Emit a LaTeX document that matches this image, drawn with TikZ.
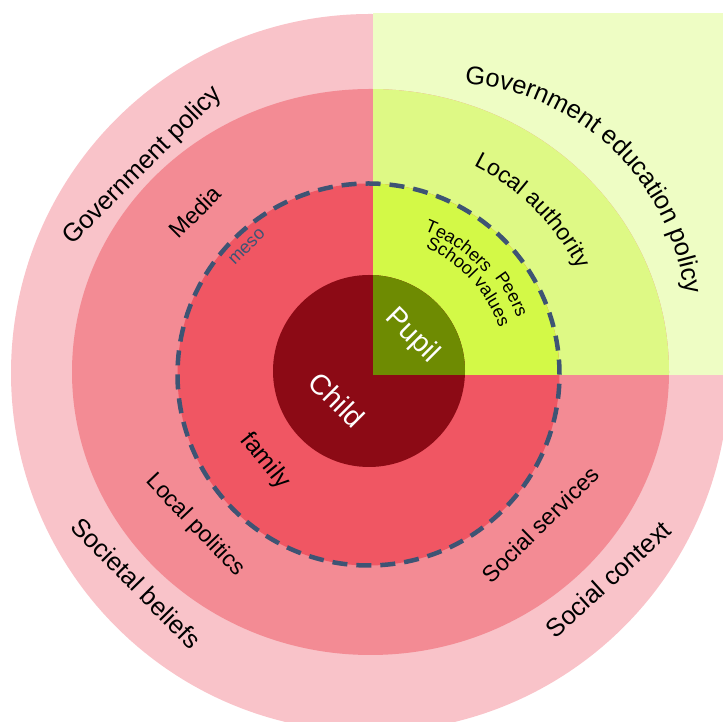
\documentclass[tikz,border=0pt]{standalone}
\usepackage{fontspec}
\setmainfont{Liberation Sans}
\usetikzlibrary{decorations.text}

% ring colours: social side (red) and school side (green)
\definecolor{ringouter}{HTML}{F9C3C9}
\definecolor{ringmid}{HTML}{F38B94}
\definecolor{ringmeso}{HTML}{F05663}
\definecolor{ringcore}{HTML}{8C0A15}
\definecolor{greenouter}{HTML}{EEFDC4}
\definecolor{greenmid}{HTML}{DEF985}
\definecolor{greenmeso}{HTML}{D3F947}
\definecolor{greencore}{HTML}{6E8B02}
\definecolor{mesoline}{HTML}{3E5474}

\newcommand\fontouter{\fontsize{25.5}{25.5}\selectfont}
\newcommand\fontmid{\fontsize{23}{23}\selectfont}
\newcommand\fontschool{\fontsize{18}{18}\selectfont}
\newcommand\fontcore{\fontsize{28.5}{28.5}\selectfont}

\tikzset{
  ringlabel/.style={inner sep=0pt, text=black},
  corelabel/.style={inner sep=0pt, text=white, font=\fontcore},
  mesodash/.style={draw=mesoline, line width=4.5pt, dash pattern=on 15pt off 9pt},
}

\begin{document}
\begin{tikzpicture}[x=1pt,y=1pt]
\useasboundingbox (0,0) rectangle (723,722);
\clip (0,0) rectangle (723,722);
\coordinate (C) at (370,349);
\coordinate (E) at (446,398);

% outer ring and the school quadrant
\fill[ringouter] (370,349) circle[radius=359];
\fill[greenouter] (373,347) rectangle (723,709);

% exo ring
\fill[ringmid] (370.5,350) ellipse[x radius=298.5, y radius=283];
\begin{scope}
  \clip (373,347) rectangle (723,722);
  \fill[greenmid] (370.5,350) ellipse[x radius=298.5, y radius=283];
\end{scope}

% meso ring
\fill[ringmeso] (368.5,347.5) circle[radius=191];
\begin{scope}
  \clip (373,347) rectangle (723,722);
  \fill[greenmeso] (368.5,347.5) circle[radius=191];
\end{scope}

% core
\fill[ringcore] (369,351) circle[radius=96];
\begin{scope}
  \clip (373,347) rectangle (723,722);
  \fill[greencore] (369,351) circle[radius=96];
\end{scope}

% meso boundary
\draw[mesodash] (368.5,347.5) circle[radius=191];

% curved labels in the school quadrant (clockwise, letters facing outward)
\path[decorate, decoration={text along path, text align=center,
  text={|\fontouter|Government education policy}}]
  ([shift={(106.3:241)}]E) arc[start angle=106.3, end angle=-13.7, radius=241];
\path[decorate, decoration={text along path, text align=center,
  text={|\fontmid|Local authority}}]
  ([shift={(105:232)}]C) arc[start angle=105, end angle=-15, radius=232];
\path[decorate, decoration={text along path, text align=center,
  text={|\fontschool|Teachers}}]
  ([shift={(85:152)}]C) arc[start angle=85, end angle=25, radius=152];
\path[decorate, decoration={text along path, text align=center,
  text={|\fontschool|Peers}}]
  ([shift={(59:157)}]C) arc[start angle=59, end angle=-1, radius=157];
\path[decorate, decoration={text along path, text align=center,
  text={|\fontschool|School values}}]
  ([shift={(102.8:137)}]C) arc[start angle=102.8, end angle=-17.2, radius=137];

% straight labels
\node[ringlabel, rotate=45, font=\fontouter] (govpolicy) at (142.5,556.5) {Government policy};
\node[ringlabel, rotate=45, font=\fontmid] (media) at (195,510) {Media};
\node[inner sep=0pt, rotate=45, text=mesoline, font=\fontsize{18}{18}\selectfont] (meso) at (247,475) {meso};
\node[ringlabel, rotate=-51, font=\fontsize{24.5}{24.5}\selectfont] (family) at (265,261) {family};
\node[ringlabel, rotate=-46.5, font=\fontmid] (localpol) at (195,196.5) {Local politics};
\node[ringlabel, rotate=44.4, font=\fontmid] (socserv) at (540.5,197.5) {Social services};
\node[ringlabel, rotate=-45.5, font=\fontouter] (societal) at (136.5,139) {Societal beliefs};
\node[ringlabel, rotate=42.3, font=\fontouter] (soccontext) at (608,143) {Social context};
\node[corelabel, rotate=-45] (child) at (337,322) {Child};
\node[corelabel, rotate=-45] (pupil) at (412,386) {Pupil};
\end{tikzpicture}
\end{document}
